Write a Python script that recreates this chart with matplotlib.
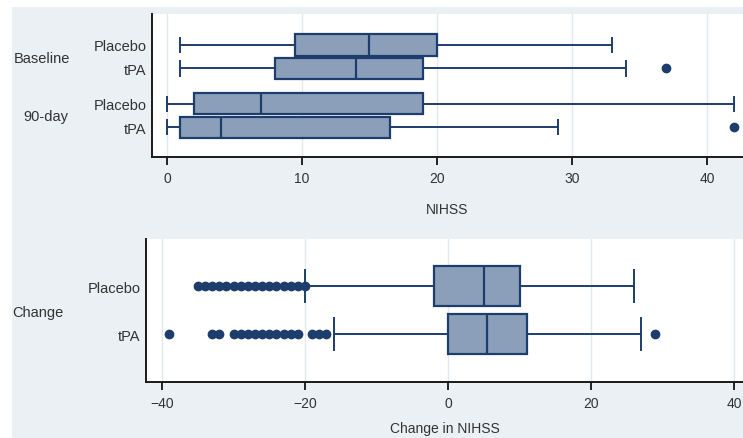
import matplotlib
matplotlib.use("Agg")
import matplotlib.pyplot as plt
from matplotlib.patches import Rectangle

# --- data ---
top_labels = ["Placebo", "tPA", "Placebo", "tPA"]
top_whislo = [1, 1, 0, 0]
top_q1 = [9.5, 8, 2, 1]
top_med = [15, 14, 7, 4]
top_q3 = [20, 19, 19, 16.5]
top_whishi = [33, 34, 42, 29]
top_fliers = [[], [37], [], [42]]

chg_labels = ["Placebo", "tPA"]
chg_whislo = [-20, -16]
chg_q1 = [-2, 0]
chg_med = [5, 5.5]
chg_q3 = [10, 11]
chg_whishi = [26, 27]
chg_fliers = [
    [-35, -34, -33, -32, -31, -30, -29, -28, -27, -26, -25, -24, -23, -22, -21, -20],
    [-39, -33, -32, -30, -29, -28, -27, -26, -25, -24, -23, -22, -21, -19, -18, -17, 29],
]

# --- style ---
BG = "#eaf0f3"
FILL = "#8c9fba"
EDGE = "#1d3d6c"
TXT = "#333333"
GRID = "#e3e8ec"

plt.rcParams["font.family"] = ["Liberation Sans", "DejaVu Sans"]
plt.rcParams["font.size"] = 10

fig = plt.figure(figsize=(7.43, 4.39), dpi=100)
fig.patch.set_facecolor("white")
fig.patches.append(Rectangle((12 / 743, 0), 1, 1 - 8 / 439, transform=fig.transFigure,
                             facecolor=BG, edgecolor="none", zorder=-10))


def make_stats(lo, q1, med, q3, hi, fl):
    return [dict(whislo=a, q1=b, med=c, q3=d, whishi=e, fliers=f)
            for a, b, c, d, e, f in zip(lo, q1, med, q3, hi, fl)]


def draw(ax, stats, pos, labels, width, capw):
    ax.bxp(stats, positions=pos, widths=width, capwidths=capw,
           orientation="horizontal", patch_artist=True,
           boxprops=dict(facecolor=FILL, edgecolor=EDGE, linewidth=1.6),
           medianprops=dict(color=EDGE, linewidth=1.6),
           whiskerprops=dict(color=EDGE, linewidth=1.4),
           capprops=dict(color=EDGE, linewidth=1.4),
           flierprops=dict(marker="o", markerfacecolor=EDGE, markeredgecolor=EDGE,
                           markersize=6))
    ax.set_yticks(pos)
    ax.set_yticklabels(labels, fontsize=10.5)
    ax.tick_params(axis="y", length=0, pad=4, labelcolor=TXT)
    ax.tick_params(axis="x", length=6, width=1.2, pad=4, labelcolor=TXT)
    for s in ["top", "right"]:
        ax.spines[s].set_visible(False)
    for s in ["left", "bottom"]:
        ax.spines[s].set_linewidth(1.4)
        ax.spines[s].set_color("#1a1a1a")
    ax.grid(axis="x", color=GRID, linewidth=1)
    ax.set_axisbelow(True)
    ax.set_facecolor("white")


# top panel: baseline / 90-day NIHSS
ax1 = fig.add_axes([152 / 743, 1 - 158 / 439, 1 - 152 / 743, 143 / 439])
top_pos = [0, 1, 2.5, 3.5]
draw(ax1, make_stats(top_whislo, top_q1, top_med, top_q3, top_whishi, top_fliers),
     top_pos, top_labels, 0.9, 0.6)
ax1.set_xlim(-1.11, 42.67)
ax1.set_ylim(4.77, -1.32)
ax1.set_xticks([0, 10, 20, 30, 40])
ax1.set_xlabel("NIHSS", color=TXT, labelpad=12)

# bottom panel: change in NIHSS
ax2 = fig.add_axes([146 / 743, 1 - 383 / 439, 1 - 146 / 743, 143 / 439])
chg_pos = [0, 1]
draw(ax2, make_stats(chg_whislo, chg_q1, chg_med, chg_q3, chg_whishi, chg_fliers),
     chg_pos, chg_labels, 0.85, 0.65)
ax2.set_xlim(-42.24, 41.26)
ax2.set_ylim(2.0, -0.98)
ax2.set_xticks([-40, -20, 0, 20, 40])
ax2.set_xlabel("Change in NIHSS", color=TXT, labelpad=8)

# group labels
fig.text(42 / 743, 1 - 59 / 439, "Baseline", ha="center", va="center", color=TXT, fontsize=10.5)
fig.text(46 / 743, 1 - 117 / 439, "90-day", ha="center", va="center", color=TXT, fontsize=10.5)
fig.text(38 / 743, 1 - 313 / 439, "Change", ha="center", va="center", color=TXT, fontsize=10.5)

fig.savefig("out.png", dpi=100, facecolor=fig.get_facecolor())
